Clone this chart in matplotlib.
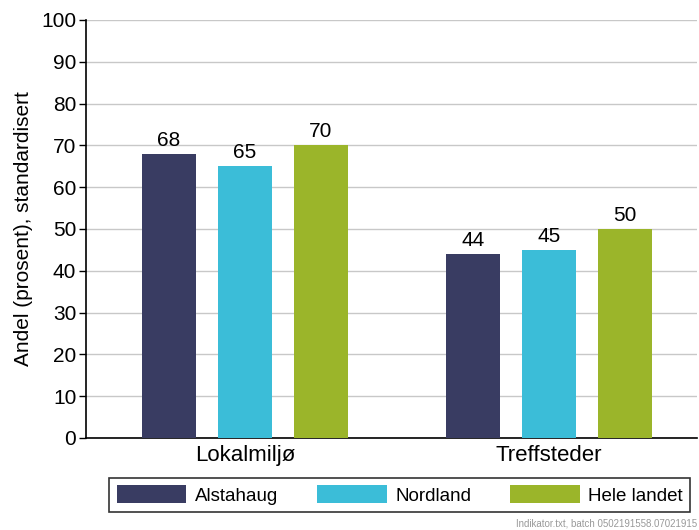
import numpy as np
import matplotlib.pyplot as plt
from matplotlib.patches import Patch

plt.rcParams['font.family'] = ['Liberation Sans', 'DejaVu Sans']

categories = ['Lokalmiljø', 'Treffsteder']
series = ['Alstahaug', 'Nordland', 'Hele landet']
values = {
    'Alstahaug': [68, 44],
    'Nordland': [65, 45],
    'Hele landet': [70, 50],
}
colors = ['#393c62', '#3bbdd8', '#9bb52a']

fig = plt.figure(figsize=(6.99, 5.3), dpi=100)
ax = fig.add_axes([0.123, 0.1736, 0.874, 0.7887])

x = np.arange(len(categories))
width = 0.178
offsets = [-0.25, 0, 0.25]
for s, off, c in zip(series, offsets, colors):
    bars = ax.bar(x + off, values[s], width, color=c, zorder=3)
    for b, v in zip(bars, values[s]):
        ax.text(b.get_x() + b.get_width() / 2, v + 1.0, str(v),
                ha='center', va='bottom', fontsize=15)

ax.set_ylim(0, 100)
ax.set_xlim(-0.523, 1.487)
ax.set_yticks(range(0, 101, 10))
ax.tick_params(axis='y', labelsize=15, length=5, width=1, direction='out', pad=2)
ax.set_xticks(x)
ax.set_xticklabels(categories, fontsize=16)
ax.tick_params(axis='x', length=0, pad=5)
ax.yaxis.grid(True, color='#c8c8c8', linewidth=1, zorder=0)
ax.set_axisbelow(True)
for side in ['top', 'right']:
    ax.spines[side].set_visible(False)
ax.spines['left'].set_linewidth(1.2)
ax.spines['bottom'].set_linewidth(1.2)
ax.set_ylabel('Andel (prosent), standardisert', fontsize=15, labelpad=6)

handles = [Patch(facecolor=c, label=s) for s, c in zip(series, colors)]
leg = fig.legend(handles=handles, loc='center', bbox_to_anchor=(0.572, 0.066),
                 ncol=3, fontsize=13.5, frameon=True, fancybox=False,
                 handlelength=3.7, handleheight=1.1, columnspacing=2.1,
                 borderpad=0.4, handletextpad=0.45, edgecolor='black')
leg.get_frame().set_linewidth(1.2)

fig.text(0.997, 0.003, 'Indikator.txt, batch 0502191558.07021915', ha='right',
         va='bottom', fontsize=7, color='#999999')

fig.savefig('out.png', dpi=100)
